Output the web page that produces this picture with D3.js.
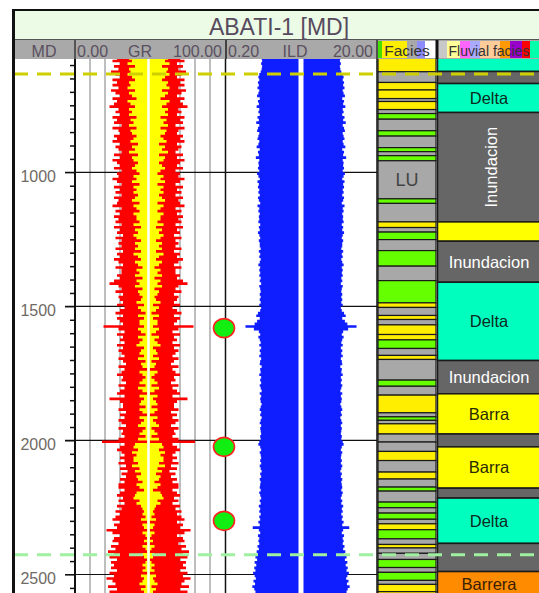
<!DOCTYPE html>
<html><head><meta charset="utf-8">
<script src="https://cdn.jsdelivr.net/npm/d3@7"></script>
<style>body{margin:0;background:#fff;overflow:hidden}svg{display:block;font-family:"Liberation Sans",Arial,sans-serif}</style>
</head><body><svg id="c" width="539" height="593"></svg>
<script>
// ---------- DATA ----------
const wellName = "ABATI-1 [MD]";
const depthTicks = [1000, 1500, 2000, 2500];
const minorTicks = d3.range(600, 2600, 50);
const logStart = 570, logStep = 10;
const grOuter = [
70,73,68,72,69,74,71,68,73,70, 73,69,74,71,68,73,70,72,75,69,
71,68,73,70,72,67,73,69,68,72, 70,73,68,71,69,67,72,68,73,70,
68,72,67,70,69,73,70,67,72,68, 71,67,72,69,70,73,67,71,68,72,
69,71,67,72,68,70,66,71,67,69, 67,71,66,70,68,72,69,66,71,67,
67,70,68,72,75,69,67,71,66,69, 68,66,70,65,68,71,66,70,68,66,
79,69,65,70,66,68,65,70,66,69, 67,65,69,66,64,69,65,67,70,66,
67,64,69,65,68,70,65,75,68,66, 66,69,64,68,65,69,67,64,69,66,
67,65,69,80,65,68,70,67,65,68, 65,69,64,68,63,67,64,68,65,69,
69,65,68,70,66,69,65,70,67,71, 68,71,73,68,72,70,77,73,68,72,
73,69,74,71,76,72,75,70,74,72, 74,70,75,72,77,73,71,76,70,75,
72,75];
const grInner = [
62,60,63,58,62,61,63,60,58,62, 61,63,58,62,60,57,63,61,58,62,
60,62,57,61,59,62,57,61,60,57, 59,61,56,60,58,62,56,60,59,56,
58,60,57,55,59,57,60,55,59,57, 59,56,58,60,55,59,57,55,59,57,
57,55,59,54,58,56,59,57,54,58, 56,58,54,59,56,54,58,56,53,57,
55,58,53,57,55,58,53,56,55,53, 54,57,52,56,54,51,56,52,55,55,
52,56,54,51,56,53,55,57,52,54, 55,52,56,51,54,53,50,55,53,51,
53,55,51,56,53,50,55,52,54,55, 51,55,53,50,55,52,54,56,51,53,
55,51,56,50,58,59,56,60,57,59, 59,56,60,55,58,54,57,56,53,57,
55,52,57,58,59,55,57,54,53,52, 53,51,54,50,53,52,50,53,51,50,
52,50,53,51,50,53,52,50,51,53, 51,53,50,54,52,53,55,51,54,52,
53,51];
const ild = [
6.7,6.6,6.8,6.6,6.7,6.9,7.2,7.4,7.2,7.5, 7.3,7.6,7.2,7.4,7.7,7.1,7.5,7.3,7.8,7.2,
7.4,7.1,7.6,7.3,7.9,7.2,7.5,7.7,7.2,7.4, 7.6,7.2,7.4,7.8,7.1,7.5,7.3,8.0,7.2,7.4,
7.3,7.5,7.2,7.7,7.4,7.1,7.6,7.3,7.5,7.2, 7.4,7.1,7.5,7.3,7.0,7.6,7.2,7.4,7.1,7.3,
7.2,7.4,7.0,7.3,7.1,7.5,7.2,7.0,7.3,7.1, 7.1,6.9,7.3,7.0,7.2,6.9,7.1,7.4,7.0,7.2,
7.0,7.2,6.9,7.1,6.8,7.2,7.0,6.9,7.1,6.9, 7.1,6.9,7.2,6.8,7.0,7.5,7.9,7.1,7.7,8.3,
11.0,8.5,7.3,7.0,7.4,7.1,6.9,7.2,6.8,7.1, 6.9,7.2,6.8,7.0,7.1,6.7,7.0,6.9,7.2,6.8,
7.0,6.8,7.1,6.9,6.7,7.1,6.8,7.0,6.9,6.7, 6.9,7.1,6.8,7.0,6.7,6.9,7.1,6.8,7.0,6.9,
6.8,7.0,6.9,7.2,7.4,7.0,6.8,7.1,6.9,6.8, 7.0,6.8,7.1,6.9,6.7,7.0,6.8,7.1,6.9,7.0,
7.1,6.9,7.2,7.0,6.8,7.1,6.9,7.3,7.0,7.2, 6.9,7.2,7.0,7.4,7.1,8.8,7.3,7.0,7.5,7.2,
7.4,7.2,7.6,7.3,7.8,7.5,8.1,7.7,8.3,7.9, 8.4,8.1,8.7,8.3,8.0,8.6,8.2,8.9,8.4,8.1,
8.5,8.3];
const faciesBounds = [560,625,665,693,725,736,766,781,802,845,865,908,923,938,957,1099,1116,1185,1206,1223,1251,1292,1350,1404,1487,1504,1534,1549,1569,1605,1625,1657,1683,1698,1775,1798,1831,1897,1912,1925,1938,1976,2006,2041,2075,2118,2144,2174,2189,2230,2251,2271,2294,2311,2333,2367,2388,2401,2421,2444,2474,2492,2522,2537,2564,2600];
const faciesCode = ["S","G","S","S","G","S","G","V","G","V","G","V","G","V","G","V","G","S","G","V","G","V","G","V","S","G","S","G","S","S","V","G","S","G","V","G","S","G","V","G","S","G","G","S","G","S","G","V","G","V","G","V","G","S","V","G","S","G","G","V","G","V","G","S","S"];
const faciesLabels = [{depth: 1028, text: "LU"}];
const fluvialBounds = [560,624,669,777,1185,1257,1410,1702,1826,1976,2024,2178,2215,2384,2489,2650];
const fluvialType = ["Delta","Inundacion","Delta","Inundacion","Barra","Inundacion","Delta","Inundacion","Barra","Inundacion","Barra","Inundacion","Delta","Inundacion","Barrera"];
const fluvialLabelMode = [0,0,1,2,0,1,1,1,1,0,1,0,1,0,1]; // 0 none, 1 horizontal, 2 vertical
const markerDepths = [1581, 2024, 2300];
const horizonDepths = [633, 2426];
const horizonColors = ["#cfcf00", "#9ff09f"];

// ---------- STYLE / LAYOUT ----------
const faciesColor = {S: "#ffee00", G: "#a8a8a8", V: "#66ff00"};
const fluvialColor = {Delta: "#00ffbf", Inundacion: "#666666", Barra: "#ffff00", Barrera: "#ff8c00"};
const fluvialText = {Delta: "#0b2a1e", Inundacion: "#ffffff", Barra: "#2a2a00", Barrera: "#3a2000"};
const plotTop = 59, plotBottom = 593;
const xDepthR = 75, xGrR = 225, xIldR = 377, xFacR = 437, xRight = 539;

const svg = d3.select("#c");
const y = d3.scaleLinear().domain([1000, 2500]).range([172.3, 574.5]);
const grX = d3.scaleLinear().domain([0, 100]).range([75, 225]);
const ildX = d3.scaleLog().domain([0.2, 20]).range([226, 376]);
const ildC = ildX(2);

svg.append("defs").append("clipPath").attr("id", "clip")
  .append("rect").attr("x", 14).attr("y", plotTop).attr("width", 540).attr("height", plotBottom - plotTop);

const logData = grOuter.map((v, i) => ({d: logStart + i * logStep, gr: v, gi: grInner[i], ild: ild[i]}));
logData.push(Object.assign({}, logData[logData.length - 1], {d: logStart + logData.length * logStep}));

const plot = svg.append("g").attr("clip-path", "url(#clip)");

// GR gridlines
plot.selectAll("line.grg").data(d3.range(10, 100, 10)).join("line")
  .attr("x1", d => grX(d)).attr("x2", d => grX(d)).attr("y1", plotTop).attr("y2", plotBottom)
  .attr("stroke", "#a9a9a9").attr("stroke-width", 1.5);

// major horizontal lines
plot.selectAll("line.maj").data(depthTicks).join("line")
  .attr("x1", 65).attr("x2", xIldR).attr("y1", d => y(d)).attr("y2", d => y(d))
  .attr("stroke", "#111").attr("stroke-width", 1.2);

// GR fills
const grArea = (key) => d3.area().curve(d3.curveStepBefore)
  .y(d => y(d.d)).x0(d => grX(98 - d[key])).x1(d => grX(d[key]));
plot.append("path").datum(logData).attr("d", grArea("gr")).attr("fill", "#ff0000");
plot.append("path").datum(logData).attr("d", grArea("gi")).attr("fill", "#ffff00");
plot.append("line").attr("x1", grX(49)).attr("x2", grX(49)).attr("y1", plotTop).attr("y2", plotBottom)
  .attr("stroke", "#fff").attr("stroke-width", 2.5);

// ILD fill
const ildArea = d3.area().curve(d3.curveStepBefore)
  .y(d => y(d.d)).x0(d => 2 * ildC - ildX(d.ild)).x1(d => ildX(d.ild));
plot.append("path").datum(logData).attr("d", ildArea).attr("fill", "#0f1eff");
plot.append("line").attr("x1", ildC).attr("x2", ildC).attr("y1", plotTop).attr("y2", plotBottom)
  .attr("stroke", "#fff").attr("stroke-width", 5);

// track borders
[[xDepthR, 2, "#111"], [xGrR + 0.5, 1.5, "#111"], [xIldR, 1.5, "#111"]].forEach(([x, w, c]) => {
  plot.append("line").attr("x1", x).attr("x2", x).attr("y1", plotTop).attr("y2", plotBottom)
    .attr("stroke", c).attr("stroke-width", w);
});

// depth axis
const minorAxis = d3.axisLeft(y).tickValues(minorTicks.filter(t => !depthTicks.includes(t))).tickSize(5).tickFormat("");
const gMinor = plot.append("g").attr("transform", `translate(${xDepthR},0)`).call(minorAxis);
gMinor.select(".domain").remove();
gMinor.selectAll("line").attr("stroke", "#111").attr("stroke-width", 1.5);
const majorAxis = d3.axisLeft(y).tickValues(depthTicks).tickSize(10).tickPadding(9).tickFormat(d3.format("d"));
const gMajor = plot.append("g").attr("transform", `translate(${xDepthR},0)`).call(majorAxis);
gMajor.select(".domain").remove();
gMajor.selectAll("line").attr("stroke", "#111").attr("stroke-width", 1.2);
gMajor.selectAll("text").attr("font-size", 16).attr("fill", "#6f6a64").attr("dy", "0.55em")
  .attr("font-family", "'Liberation Sans',Arial,sans-serif");

// facies column
const fac = faciesCode.map((c, i) => ({top: faciesBounds[i], base: faciesBounds[i + 1], c}));
plot.selectAll("rect.fac").data(fac).join("rect")
  .attr("x", 378).attr("width", 58)
  .attr("y", d => y(d.top)).attr("height", d => y(d.base) - y(d.top))
  .attr("fill", d => faciesColor[d.c]).attr("stroke", "#1a1a1a").attr("stroke-width", 1.2);
plot.selectAll("text.facl").data(faciesLabels).join("text")
  .attr("x", 407).attr("y", d => y(d.depth)).attr("dy", "0.35em").attr("text-anchor", "middle")
  .attr("font-size", 18).attr("fill", "#444").text(d => d.text);

// fluvial facies column
const flu = fluvialType.map((t, i) => ({top: fluvialBounds[i], base: fluvialBounds[i + 1], t, m: fluvialLabelMode[i]}));
plot.selectAll("rect.flu").data(flu).join("rect")
  .attr("x", xFacR + 0.5).attr("width", 120)
  .attr("y", d => y(d.top)).attr("height", d => y(d.base) - y(d.top))
  .attr("fill", d => fluvialColor[d.t]).attr("stroke", "#1a1a1a").attr("stroke-width", 1.5);
plot.selectAll("text.flul").data(flu.filter(d => d.m === 1)).join("text")
  .attr("x", 489).attr("y", d => d.t === "Barrera" ? 590 : (y(d.top) + y(d.base)) / 2)
  .attr("dy", d => d.t === "Barrera" ? 0 : "0.36em").attr("text-anchor", "middle")
  .attr("font-size", 16.5).attr("fill", d => fluvialText[d.t]).text(d => d.t);
flu.filter(d => d.m === 2).forEach(d => {
  const cy = (y(d.top) + y(d.base)) / 2;
  plot.append("text").attr("transform", `translate(491,${cy}) rotate(-90)`)
    .attr("dy", "0.36em").attr("text-anchor", "middle").attr("font-size", 16.5)
    .attr("fill", fluvialText[d.t]).text(d.t);
});

// horizons
plot.selectAll("line.hz").data(horizonDepths).join("line")
  .attr("x1", 14).attr("x2", xRight).attr("y1", d => y(d)).attr("y2", d => y(d))
  .attr("stroke", (d, i) => horizonColors[i]).attr("stroke-width", 3).attr("stroke-dasharray", "14,9");

// markers
plot.selectAll("ellipse.mk").data(markerDepths).join("ellipse")
  .attr("cx", 224).attr("cy", d => y(d)).attr("rx", 10.5).attr("ry", 9.5)
  .attr("fill", "#11ee11").attr("stroke", "#ff2020").attr("stroke-width", 1.6);

// ---------- HEADER ----------
svg.append("rect").attr("x", 13).attr("y", 10).attr("width", 530).attr("height", 30).attr("fill", "#ebfbe6");
svg.append("rect").attr("x", 13).attr("y", 40).attr("width", 530).attr("height", 19).attr("fill", "#a9a9a9");
svg.append("line").attr("x1", 13).attr("x2", xRight).attr("y1", 39.5).attr("y2", 39.5).attr("stroke", "#555").attr("stroke-width", 1.2);
svg.append("text").attr("x", 279).attr("y", 35).attr("text-anchor", "middle").attr("font-size", 23)
  .attr("fill", "#574a5e").text(wellName);

// facies header swatches
const facSw = [[378, 4, "#44dd00"], [382, 25, "#ffee00"], [407, 10, "#a8a8a8"], [417, 8, "#8c8cff"], [425, 12, "#ffffff"]];
facSw.forEach(([x, w, c]) => svg.append("rect").attr("x", x).attr("y", 41).attr("width", w).attr("height", 17).attr("fill", c));
const fluSw = [[438, 9, "#c8c8c8"], [447, 13, "#ffff99"], [460, 10, "#ff66ff"], [470, 10, "#aaaaff"], [480, 20, "#ffcc99"], [500, 10, "#ff9900"], [510, 12, "#9900cc"], [522, 8, "#ff0000"], [530, 9, "#00ffaa"]];
fluSw.forEach(([x, w, c]) => svg.append("rect").attr("x", x).attr("y", 41).attr("width", w).attr("height", 17).attr("fill", c));

[[xDepthR, "#555", 2], [226, "#222", 1.5], [xIldR, "#333", 1.5], [xFacR, "#111", 3]].forEach(([x, c, w]) =>
  svg.append("line").attr("x1", x).attr("x2", x).attr("y1", 40).attr("y2", plotTop).attr("stroke", c).attr("stroke-width", w));

const hdr = [
  {x: 44, a: "middle", t: "MD"}, {x: 77, a: "start", t: "0.00"}, {x: 140, a: "middle", t: "GR"}, {x: 222, a: "end", t: "100.00"},
  {x: 228, a: "start", t: "0.20"}, {x: 295, a: "middle", t: "ILD"}, {x: 373, a: "end", t: "20.00"}];
svg.selectAll("text.hdr").data(hdr).join("text").attr("x", d => d.x).attr("y", 56.5).attr("text-anchor", d => d.a)
  .attr("font-size", 16).attr("fill", "#5a5060").text(d => d.t);
svg.append("text").attr("x", 407).attr("y", 56).attr("text-anchor", "middle").attr("font-size", 15.5).attr("fill", "#333").text("Facies");
svg.append("text").attr("x", 489).attr("y", 56).attr("text-anchor", "middle").attr("font-size", 14).attr("fill", "#333").text("Fluvial facies");

// outer frame
svg.append("line").attr("x1", 12).attr("x2", xRight).attr("y1", 10).attr("y2", 10).attr("stroke", "#111").attr("stroke-width", 2);
svg.append("line").attr("x1", 13.5).attr("x2", 13.5).attr("y1", 9).attr("y2", 593).attr("stroke", "#111").attr("stroke-width", 3);
</script></body></html>
